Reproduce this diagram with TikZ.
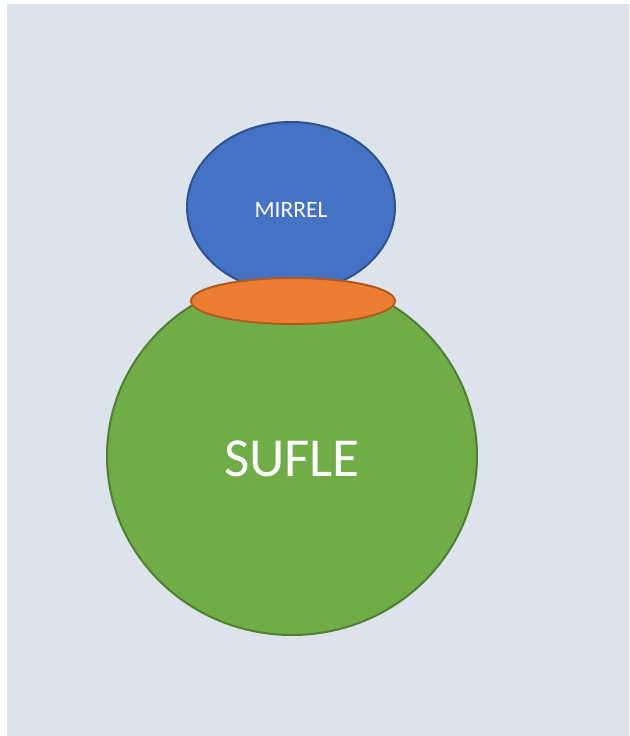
\documentclass[tikz,border=0pt]{standalone}
\usepackage{fontspec}
\setmainfont{Carlito}
\usetikzlibrary{shapes.geometric}
\definecolor{backgr}{RGB}{220,227,234}
\definecolor{blueFill}{RGB}{68,114,196}
\definecolor{blueLine}{RGB}{47,82,143}
\definecolor{orangeFill}{RGB}{237,125,49}
\definecolor{orangeLine}{RGB}{174,90,33}
\definecolor{greenFill}{RGB}{112,173,71}
\definecolor{greenLine}{RGB}{80,126,50}
\tikzset{
  blob/.style={ellipse,line width=2pt,inner sep=0pt,text=white},
  base/.style={blob,fill=greenFill,draw=greenLine},
  top/.style={blob,fill=blueFill,draw=blueLine},
  lid/.style={blob,fill=orangeFill,draw=orangeLine}
}

\begin{document}
\begin{tikzpicture}[x=1pt,y=-1pt]
                %page and background
                \useasboundingbox (0,0) rectangle (629,736);
                \fill[backgr] (7,4) rectangle (629,736);

                %the big round one first
                \node (sufle) at (292,456) [base,minimum width=370pt,minimum height=358pt]{};
                \node (sufletext) at (292,459) [font=\fontsize{55}{64}\selectfont,text=white]{SUFLE};

                %the small one on top
                \node (mirrel) at (291,207) [top,minimum width=208pt,minimum height=170pt]{};
                \node (mirreltext) at (291,210) [font=\fontsize{23.5}{28}\selectfont,text=white]{MIRREL};

                %the lid in between
                \node (lid) at (293,301) [lid,minimum width=204pt,minimum height=46pt]{};
\end{tikzpicture}
\end{document}
